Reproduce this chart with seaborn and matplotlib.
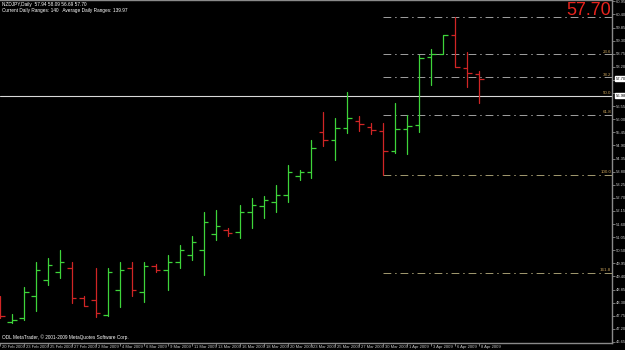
import numpy as np
import pandas as pd
import matplotlib
matplotlib.use("Agg")
import matplotlib.pyplot as plt
import seaborn as sns
from matplotlib.transforms import ScaledTranslation, blended_transform_factory

# ---------------- data ----------------
dates = ["20 Feb 2009", "22 Feb 2009", "23 Feb 2009", "24 Feb 2009", "25 Feb 2009",
         "26 Feb 2009", "27 Feb 2009", "1 Mar 2009", "2 Mar 2009", "3 Mar 2009",
         "4 Mar 2009", "5 Mar 2009", "6 Mar 2009", "8 Mar 2009", "9 Mar 2009",
         "10 Mar 2009", "11 Mar 2009", "12 Mar 2009", "13 Mar 2009", "15 Mar 2009",
         "16 Mar 2009", "17 Mar 2009", "18 Mar 2009", "19 Mar 2009", "20 Mar 2009",
         "22 Mar 2009", "23 Mar 2009", "24 Mar 2009", "25 Mar 2009", "26 Mar 2009",
         "27 Mar 2009", "29 Mar 2009", "30 Mar 2009", "31 Mar 2009", "1 Apr 2009",
         "2 Apr 2009", "3 Apr 2009", "5 Apr 2009", "6 Apr 2009", "7 Apr 2009",
         "8 Apr 2009"]
opens = [48.41, 47.49, 47.66, 48.58, 49.25, 49.59, 49.76, 48.50, 48.41, 47.78,
         48.83, 49.76, 48.75, 49.84, 49.67, 50.01, 50.30, 50.51, 51.18, 51.35,
         51.27, 52.11, 52.36, 52.53, 52.82, 53.62, 53.79, 55.47, 55.13, 55.63,
         55.93, 55.68, 55.51, 54.67, 55.59, 55.76, 58.61, 58.74, 59.54, 58.15,
         57.90]
highs = [48.58, 47.83, 48.96, 50.01, 50.18, 50.51, 50.01, 48.58, 49.76, 49.76,
         50.01, 50.01, 50.01, 49.92, 50.30, 50.72, 51.10, 52.11, 52.19, 51.44,
         52.40, 52.70, 52.78, 53.24, 54.08, 53.87, 55.13, 56.31, 56.05, 57.15,
         56.14, 55.84, 55.84, 56.68, 56.18, 58.70, 58.95, 59.54, 60.29, 58.82,
         58.03]
lows = [47.66, 47.45, 47.57, 47.95, 49.04, 49.34, 48.29, 48.16, 47.70, 47.74,
        48.12, 48.58, 48.33, 49.59, 48.83, 49.76, 50.09, 49.46, 50.93, 51.10,
        51.02, 51.44, 51.86, 52.11, 52.53, 53.45, 53.53, 54.88, 54.29, 55.42,
        55.51, 55.38, 53.66, 54.58, 54.54, 55.47, 57.44, 58.74, 58.19, 57.36,
        56.68]
closes = [47.74, 47.57, 48.75, 49.67, 49.88, 50.01, 48.50, 48.16, 47.87, 49.59,
          49.67, 48.83, 49.84, 49.67, 50.01, 50.51, 50.85, 51.69, 51.52, 51.23,
          52.11, 52.40, 52.61, 52.82, 53.79, 53.79, 54.79, 55.13, 55.63, 56.05,
          55.80, 55.55, 54.67, 55.59, 55.72, 58.57, 58.74, 59.54, 58.19, 57.94,
          57.70]

x_tick_labels = ["20 Feb 2009", "23 Feb 2009", "25 Feb 2009", "27 Feb 2009", "2 Mar 2009",
                 "4 Mar 2009", "6 Mar 2009", "9 Mar 2009", "11 Mar 2009", "13 Mar 2009",
                 "16 Mar 2009", "18 Mar 2009", "20 Mar 2009", "23 Mar 2009", "25 Mar 2009",
                 "27 Mar 2009", "30 Mar 2009", "1 Apr 2009", "3 Apr 2009", "6 Apr 2009",
                 "8 Apr 2009"]
y_ticks = [46.65, 47.20, 47.75, 48.30, 48.85, 49.40, 49.95, 50.50, 51.05, 51.60,
           52.15, 52.70, 53.25, 53.80, 54.35, 54.90, 55.45, 56.00, 56.55, 57.10,
           57.65, 58.20, 58.75, 59.30, 59.85, 60.40, 60.95]

fib_ratios = [0.0, 23.6, 38.2, 50.0, 61.8, 100.0, 161.8]
fib_labels = ["", "23.6", "38.2", "50.0", "61.8", "100.0", "161.8"]
fib_high = 60.29
fib_low = 53.66
fib_start_date = "30 Mar 2009"
hline_price = 56.98
current_price = 57.70
header_1 = "NZDJPY,Daily  57.94 58.09 56.69 57.70"
header_2 = "Current Daily Ranges: 140   Average Daily Ranges: 139.97"
footer = "ODL MetaTrader, \u00a9 2001-2009 MetaQuotes Software Corp."

# ---------------- style ----------------
UP = "#3ed43a"
DOWN = "#d02525"
AXC = "#8a8a8a"
sns.set_theme(style="dark", rc={"axes.facecolor": "black", "figure.facecolor": "black",
                                "axes.edgecolor": AXC, "grid.color": "black"})
plt.rcParams["font.family"] = ["Liberation Sans", "DejaVu Sans"]

fig = plt.figure(figsize=(6.25, 3.5), dpi=100, facecolor="black")
ax = fig.add_axes([0, 7 / 350, 612 / 625, 343 / 350])
ax.set_facecolor("black")

xs = np.arange(len(dates))
direction = ["up" if c >= o else "down" for o, c in zip(opens, closes)]
df = pd.DataFrame({
    "x": np.concatenate([xs, xs]),
    "price": highs + lows,
    "bar": np.concatenate([xs, xs]),
    "dir": direction + direction,
})
sns.lineplot(data=df, x="x", y="price", units="bar", estimator=None, hue="dir",
             palette={"up": UP, "down": DOWN}, sort=False, legend=False,
             linewidth=0.9, ax=ax)
cols = [UP if d == "up" else DOWN for d in direction]
ax.hlines(opens, xs - 0.38, xs, colors=cols, lw=0.9)
ax.hlines(closes, xs, xs + 0.38, colors=cols, lw=0.9)

xmin = 1 / 12
xmax = xmin + 612 / 12
ax.set_xlim(xmin, xmax)
ax.set_ylim(46.608, 61.007)

# horizontal white line
ax.axhline(hline_price, color="#d8d8d8", lw=0.8, zorder=1)

# fibonacci
k0 = dates.index(fib_start_date)
rng = fib_high - fib_low
for r, lab in zip(fib_ratios, fib_labels):
    lvl = fib_high - r / 100 * rng
    col = "#a0a0a0" if r < 90 else "#a39a70"
    if r != 50.0:
        ax.hlines(lvl, k0, xmax, colors=col, lw=0.7, linestyles=[(0, (8, 4, 1.5, 4))], zorder=1)
    if lab:
        ax.text(xmax - 0.08, lvl + 0.03, lab, color="#c9a25a", fontsize=3.2,
                ha="right", va="bottom", zorder=3)

# axes / ticks
ax.spines["left"].set_visible(False)
for s in ["right", "bottom", "top"]:
    ax.spines[s].set_color(AXC)
    ax.spines[s].set_linewidth(1.0)
ax.yaxis.tick_right()
ax.set_yticks(y_ticks)
boxed = [current_price, hline_price]
ax.set_yticklabels(["" if min(abs(v - b) for b in boxed) < 0.16 else f"{v:.2f}"
                    for v in y_ticks])
ax.tick_params(axis="y", right=True, left=False, length=2, width=0.6, color=AXC,
               labelcolor="#c8c8c8", labelsize=3.0, pad=1.0)
tick_pos = [dates.index(d) for d in x_tick_labels]
ax.set_xticks(tick_pos)
ax.set_xticklabels(x_tick_labels)
ax.tick_params(axis="x", bottom=True, length=2, width=0.6, color=AXC,
               labelcolor="#c8c8c8", labelsize=3.0, pad=0.3)
off = ScaledTranslation(2 / 100, 1.5 / 100, fig.dpi_scale_trans)
for t in ax.get_xticklabels():
    t.set_horizontalalignment("left")
    t.set_transform(t.get_transform() + off)
ax.set_xlabel("")
ax.set_ylabel("")
ax.grid(False)

# price boxes on right axis
btr = blended_transform_factory(ax.transAxes, ax.transData)
for p in boxed:
    ax.text(1.006, p, f"{p:.2f}", transform=btr, fontsize=3.0, color="black",
            ha="left", va="center", clip_on=False,
            bbox=dict(boxstyle="square,pad=0.12", fc="white", ec="white"))

# texts
fig.text(611 / 625, 1 - 2 / 350, f"{current_price:.2f}", ha="right", va="top",
         fontsize=13, color="#e8231d")
fig.text(2 / 625, 1 - 2 / 350, header_1, ha="left", va="top", fontsize=3.4, color="white")
fig.text(2 / 625, 1 - 8 / 350, header_2, ha="left", va="top", fontsize=3.4, color="white")
fig.text(2 / 625, 1 - 340 / 350, footer, ha="left", va="bottom", fontsize=3.4, color="white")

fig.savefig("out.png", dpi=100, facecolor="black")
